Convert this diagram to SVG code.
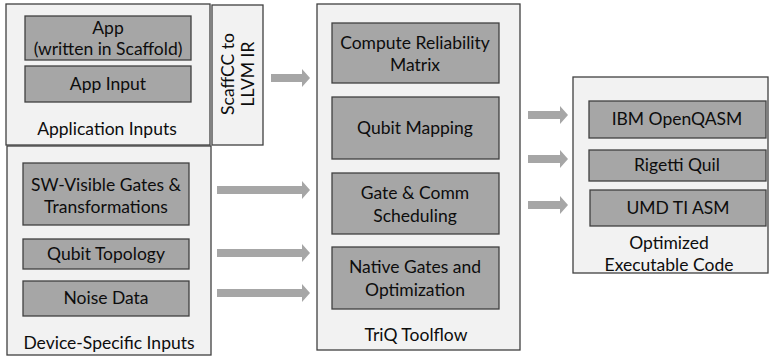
<svg xmlns="http://www.w3.org/2000/svg" width="772" height="360" viewBox="0 0 772 360">
<style>
.outer{fill:#f2f2f2;stroke:#404040;stroke-width:1.3}
.inner{fill:#a6a6a6;stroke:#404040;stroke-width:1.3}
.arr{fill:#a6a6a6}
text{font-family:Lato,"Noto Sans",sans-serif;font-size:17.5px;fill:#0d0d0d;text-anchor:middle}
</style>
<rect width="772" height="360" fill="#ffffff"/>
<g id="app-inputs">
<rect class="outer" x="6" y="4" width="204" height="141"/>
<text x="107" y="135">Application Inputs</text>
</g>
<g id="app">
<rect class="inner" x="25" y="16" width="166" height="44"/>
<text x="108" y="34">App</text>
<text x="108" y="55">(written in Scaffold)</text>
</g>
<g id="app-input">
<rect class="inner" x="25" y="66" width="166" height="36"/>
<text x="108" y="90">App Input</text>
</g>
<g id="scaffcc">
<rect class="outer" x="212" y="5" width="51" height="140"/>
<text transform="translate(234,74) rotate(-90)">ScaffCC to</text>
<text transform="translate(254,74) rotate(-90)">LLVM IR</text>
</g>
<g id="device-inputs">
<rect class="outer" x="7" y="146" width="204" height="209"/>
<text x="109" y="349">Device-Specific Inputs</text>
</g>
<g id="sw-gates">
<rect class="inner" x="23" y="163" width="166" height="62"/>
<text x="106" y="191">SW-Visible Gates &amp;</text>
<text x="106" y="213">Transformations</text>
</g>
<g id="qubit-topology">
<rect class="inner" x="23" y="239" width="166" height="30"/>
<text x="106" y="260">Qubit Topology</text>
</g>
<g id="noise-data">
<rect class="inner" x="23" y="281" width="166" height="35"/>
<text x="106" y="304">Noise Data</text>
</g>
<g id="triq">
<rect class="outer" x="317" y="4" width="203" height="346"/>
<text x="416" y="341">TriQ Toolflow</text>
</g>
<g id="compute-reliability">
<rect class="inner" x="332" y="23" width="167" height="60"/>
<text x="415" y="49">Compute Reliability</text>
<text x="415" y="71">Matrix</text>
</g>
<g id="qubit-mapping">
<rect class="inner" x="332" y="97" width="167" height="62"/>
<text x="415" y="134">Qubit Mapping</text>
</g>
<g id="gate-scheduling">
<rect class="inner" x="332" y="173" width="167" height="61"/>
<text x="415" y="199">Gate &amp; Comm</text>
<text x="415" y="222">Scheduling</text>
</g>
<g id="native-gates">
<rect class="inner" x="332" y="247" width="167" height="62"/>
<text x="415" y="273">Native Gates and</text>
<text x="415" y="296">Optimization</text>
</g>
<g id="optimized">
<rect class="outer" x="573" y="77" width="195" height="196"/>
<text x="669" y="249">Optimized</text>
<text x="669" y="271">Executable Code</text>
</g>
<g id="ibm">
<rect class="inner" x="589" y="101" width="177" height="37"/>
<text x="677" y="125">IBM OpenQASM</text>
</g>
<g id="rigetti">
<rect class="inner" x="589" y="150" width="177" height="31"/>
<text x="677" y="171">Rigetti Quil</text>
</g>
<g id="umd">
<rect class="inner" x="590" y="190" width="176" height="36"/>
<text x="678" y="214">UMD TI ASM</text>
</g>
<g id="connectors">
<path class="arr" d="M271,74 H302 V69 L310,78 L302,87 V82 H271 Z"/>
<path class="arr" d="M217,186 H302 V181 L310,190 L302,199 V194 H217 Z"/>
<path class="arr" d="M217,249 H302 V244 L310,253 L302,262 V257 H217 Z"/>
<path class="arr" d="M217,289 H302 V284 L310,293 L302,302 V297 H217 Z"/>
<path class="arr" d="M528,111 H560 V106 L568,115 L560,124 V119 H528 Z"/>
<path class="arr" d="M528,155 H560 V150 L568,159 L560,168 V163 H528 Z"/>
<path class="arr" d="M528,201 H560 V196 L568,205 L560,214 V209 H528 Z"/>
</g>
</svg>
